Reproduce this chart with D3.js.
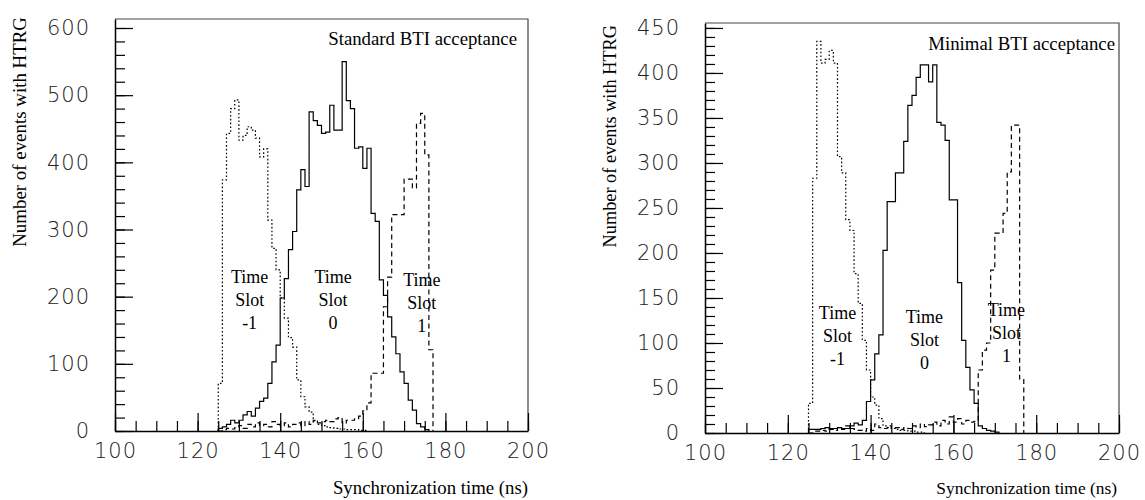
<!DOCTYPE html>
<html>
<head>
<meta charset="utf-8">
<script src="https://cdn.jsdelivr.net/npm/d3@7"></script>
<style>
body{margin:0;background:#fff;}
.tk text{font-family:"DejaVu Sans",sans-serif;font-size:21px;font-weight:200;letter-spacing:1px;fill:#222;}
.serif{font-family:"Liberation Serif","Times New Roman",serif;fill:#000;}
</style>
</head>
<body>
<svg id="chart" width="1145" height="500"></svg>
<script>
// histogram bins are 1 ns wide, first bin starts at 125 ns
var binStart = 125;

// standard BTI acceptance
var stdSlotM1 = [71,374,443,480,493,433,440,453,448,436,408,420,314,272,240,198,168,139,125,76,51,36,28,15,10,8,6,5,4,3,3,2,2,2,1,1];
var stdSlot0  = [4,6,10,16,12,16,24,29,22,34,44,49,71,103,128,198,227,270,297,359,389,364,475,462,455,443,445,485,448,448,550,492,480,421,423,391,421,324,312,225,202,170,140,115,88,71,46,31,11,6,2];
var stdSlot1  = [0,2,4,3,5,8,4,10,6,12,8,10,6,14,10,8,12,6,10,12,8,14,10,16,12,14,16,14,18,20,12,16,16,18,22,30,42,86,86,86,185,229,322,322,322,375,375,362,458,473,411,121];

// minimal BTI acceptance
var minSlotM1 = [33,283,435,411,415,425,411,307,289,237,225,177,144,103,70,40,31,16,8,6,5,4,3,3,2,2,1,1];
var minSlot0  = [4,4,4,5,6,5,5,6,5,5,8,11,9,14,35,59,88,109,203,257,257,289,289,324,364,375,395,409,409,390,409,345,342,325,259,259,167,103,73,48,33,8,5,3,2,1];
var minSlot1  = [0,2,2,3,2,4,3,6,4,8,5,4,3,2,5,3,10,6,5,8,5,6,4,6,5,8,6,10,7,9,12,8,14,10,18,12,16,10,14,12,13,70,92,100,181,222,222,244,290,342,342,60];

var xTicks = [100,120,140,160,180,200];
var stdYTicks = [0,100,200,300,400,500,600];
var minYTicks = [0,50,100,150,200,250,300,350,400,450];

var svg = d3.select('#chart');

function histPoints(vals){
	var pts = [[binStart,0]];
	vals.forEach(function(v,i){ pts.push([binStart+i,v]); });
	pts.push([binStart+vals.length,0]);
	return pts;
}

function panel(cfg){
	var g = svg.append('g');
	var x = d3.scaleLinear().domain([100,200]).range([cfg.left,cfg.right]);
	var y = d3.scaleLinear().domain([0,cfg.yMax]).range([cfg.bottom,cfg.top]);

	// frame top & right
	g.append('path').attr('d','M'+cfg.left+','+cfg.top+'H'+cfg.right+'V'+cfg.bottom)
		.style('fill','none').style('stroke','#444').style('stroke-width','1.2px');

	// minor ticks
	var yStep = cfg.yTicks[1]-cfg.yTicks[0];
	var yMinor = d3.range(0,cfg.yTicks[cfg.yTicks.length-1]+0.001,yStep/5);
	g.append('g').attr('transform','translate('+cfg.left+',0)')
		.call(d3.axisLeft(y).tickValues(yMinor).tickSize(-10).tickSizeOuter(0).tickFormat(''))
		.call(function(a){a.select('.domain').remove();});
	g.append('g').attr('transform','translate(0,'+cfg.bottom+')')
		.call(d3.axisBottom(x).tickValues(d3.range(100,200.001,5)).tickSize(-10).tickSizeOuter(0).tickFormat(''))
		.call(function(a){a.select('.domain').remove();});

	// major ticks with labels
	g.append('g').attr('class','tk').attr('transform','translate('+cfg.left+',0)')
		.call(d3.axisLeft(y).tickValues(cfg.yTicks).tickSize(-18).tickSizeOuter(0).tickPadding(25))
		.call(function(a){
			a.select('.domain').style('stroke','#000').style('stroke-width','1.5px');
			a.selectAll('text').attr('font-family',null).attr('font-size',null);
		});
	g.append('g').attr('class','tk').attr('transform','translate(0,'+cfg.bottom+')')
		.call(d3.axisBottom(x).tickValues(xTicks).tickSize(-18).tickSizeOuter(0).tickPadding(12))
		.call(function(a){
			a.select('.domain').style('stroke','#000').style('stroke-width','1.5px');
			a.selectAll('text').attr('font-family',null).attr('font-size',null);
		});
	g.selectAll('.tick line').style('stroke','#000').style('stroke-width','1.2px');

	// histograms
	var line = d3.line().x(function(d){return x(d[0]);}).y(function(d){return y(d[1]);}).curve(d3.curveStepAfter);
	var styles = [
		{vals:cfg.series[0], dash:'1.6,2.2'},
		{vals:cfg.series[1], dash:null},
		{vals:cfg.series[2], dash:'5,3.5'}
	];
	styles.forEach(function(s){
		g.append('path').attr('d',line(histPoints(s.vals)))
			.style('fill','none').style('stroke','#000').style('stroke-width','1.2px')
			.style('stroke-dasharray',s.dash);
	});

	// slot labels
	cfg.labels.forEach(function(l){
		var t = g.append('text').attr('class','serif').attr('text-anchor','middle').style('font-size','18px');
		['Time','Slot',l.n].forEach(function(s,i){
			t.append('tspan').attr('x',x(l.t)).attr('y',l.y+i*23).text(s);
		});
	});

	// titles
	g.append('text').attr('class','serif').attr('x',cfg.titleX).attr('y',cfg.titleY)
		.attr('text-anchor','end').style('font-size','18.8px').text(cfg.title);
	g.append('text').attr('class','serif').attr('x',cfg.xTitleEnd).attr('y',494)
		.attr('text-anchor','end').style('font-size',cfg.xTitleSize).text('Synchronization time (ns)');
	g.append('text').attr('class','serif').attr('transform','translate('+cfg.yTitleX+','+cfg.yTitleTop+') rotate(-90)')
		.attr('text-anchor','end').style('font-size',cfg.yTitleSize).text('Number of events with HTRG');
}

panel({left:115,right:528,top:19,bottom:431,yMax:613.4,yTicks:stdYTicks,
	series:[stdSlotM1,stdSlot0,stdSlot1],title:'Standard BTI acceptance',titleX:517,titleY:45,
	xTitleEnd:528,xTitleSize:'18.8px',yTitleX:26,yTitleTop:17,yTitleSize:'18.9px',
	labels:[{t:132.6,y:283,n:'-1'},{t:152.8,y:283,n:'0'},{t:174.3,y:286,n:'1'}]});

panel({left:705,right:1119,top:23,bottom:433,yMax:455.5,yTicks:minYTicks,
	series:[minSlotM1,minSlot0,minSlot1],title:'Minimal BTI acceptance',titleX:1115,titleY:50,
	xTitleEnd:1117,xTitleSize:'17.4px',yTitleX:616,yTitleTop:25,yTitleSize:'18.3px',
	labels:[{t:132,y:319,n:'-1'},{t:153,y:323,n:'0'},{t:172.8,y:316,n:'1'}]});
</script>
</body>
</html>
